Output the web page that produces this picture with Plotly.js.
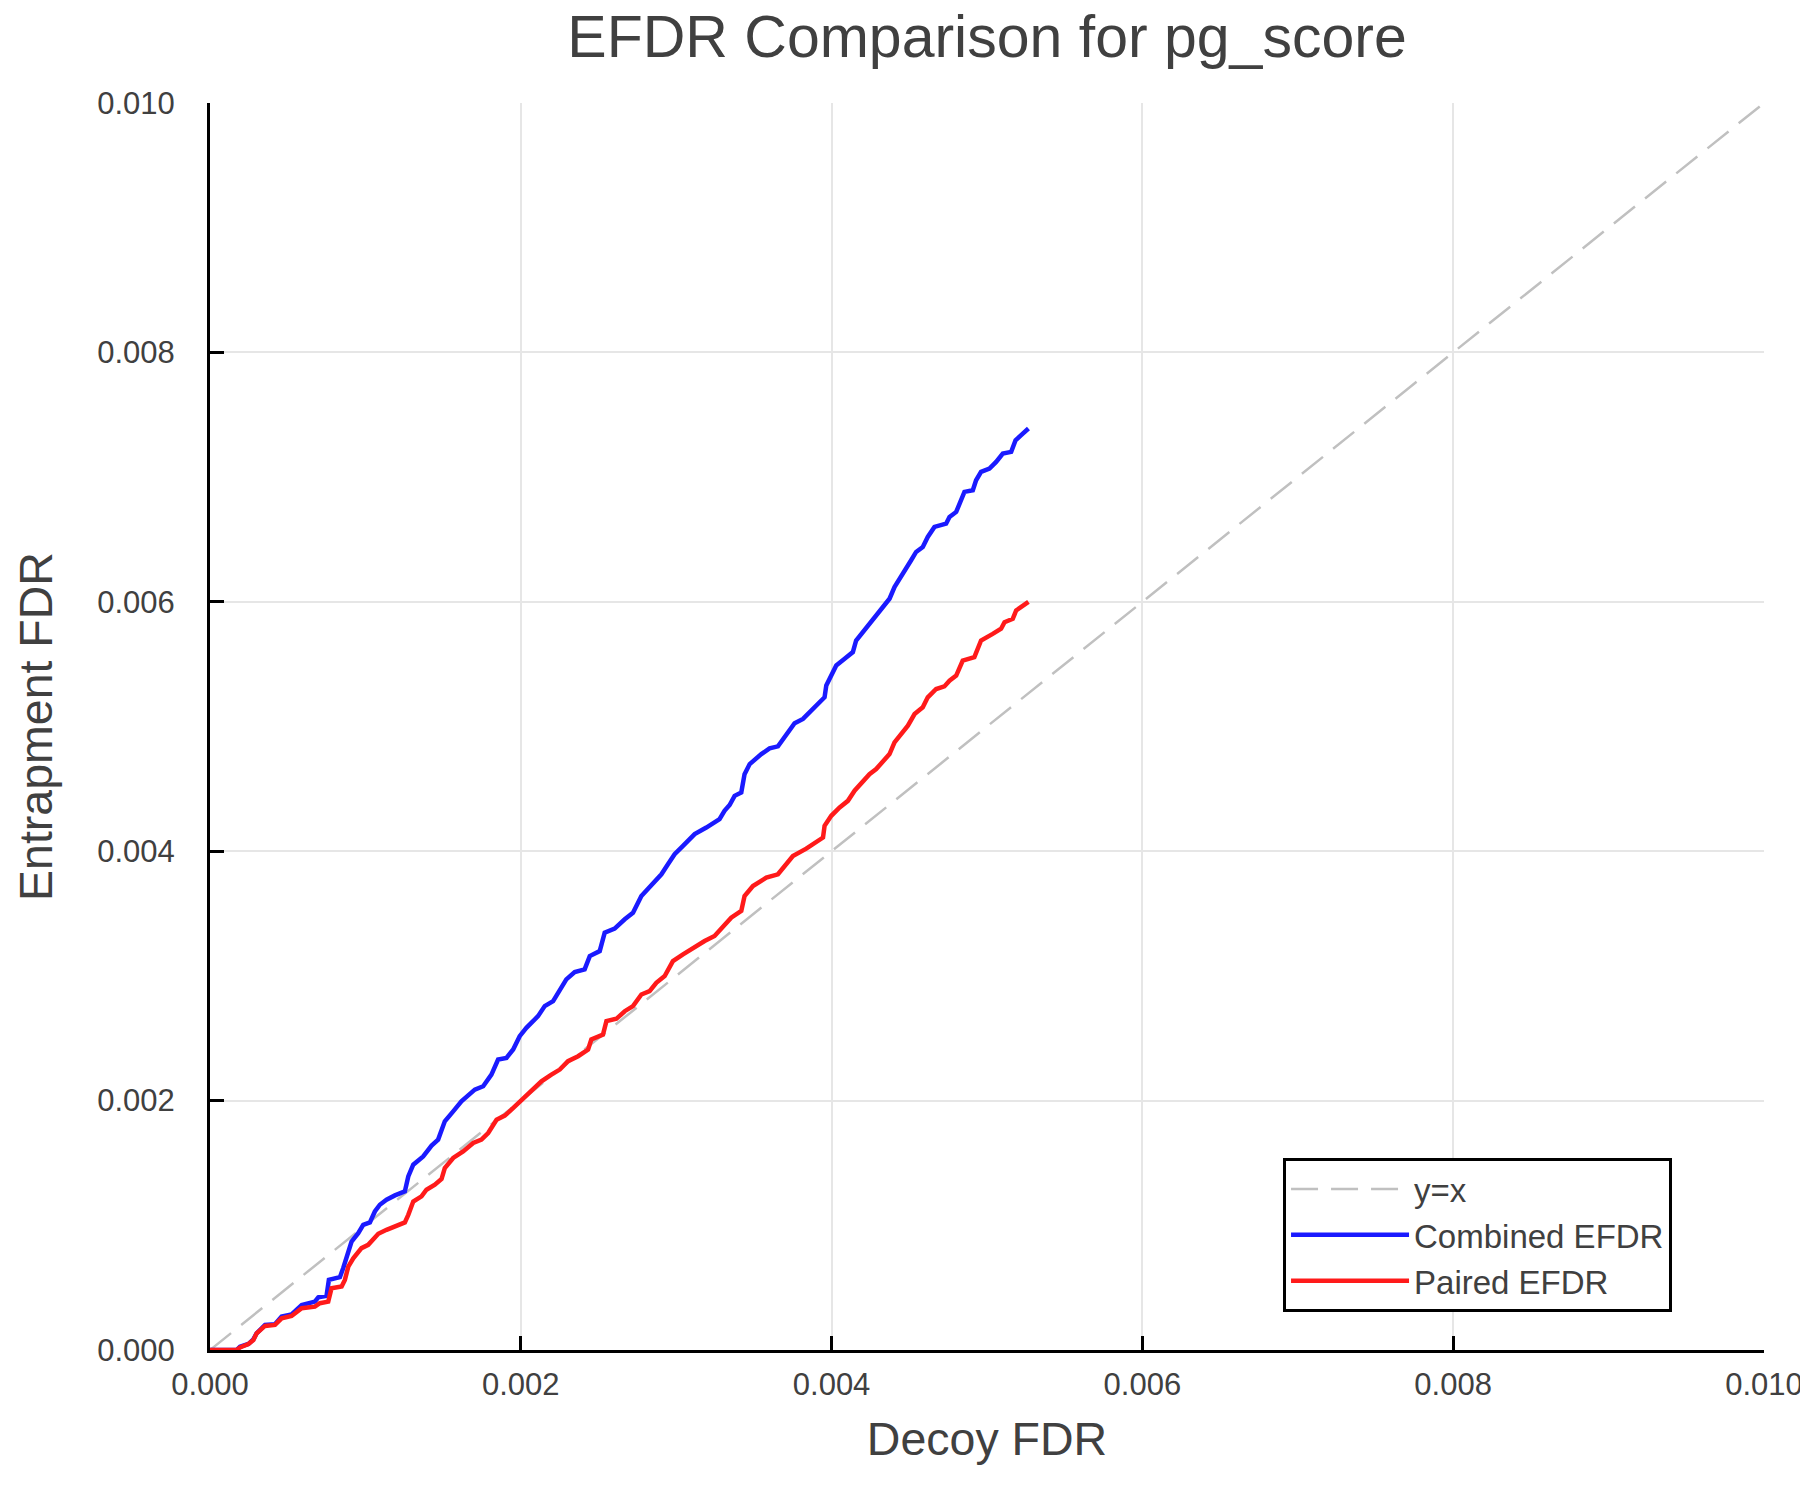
<html>
<head>
<script src="https://cdn.plot.ly/plotly-3.0.1.min.js"></script>
</head>
<body style="margin:0">
<div id="efdrPlot"></div>
<script>
//Combined EFDR curve (decoy FDR, entrapment FDR)
var combinedX = [0, 0.000171, 0.000193, 0.000247, 0.000279, 0.000300, 0.000354, 0.000418, 0.000461, 0.000525,
  0.000590, 0.000675, 0.000697, 0.000750, 0.000765, 0.000836, 0.000857, 0.000890, 0.000911, 0.000954,
  0.000986, 0.001029, 0.001061, 0.001093, 0.001136, 0.001190, 0.001254, 0.001276, 0.001308, 0.001372,
  0.001426, 0.001468, 0.001490, 0.001511, 0.001565, 0.001618, 0.001704, 0.001758, 0.001811, 0.001854,
  0.001908, 0.001951, 0.001993, 0.002036, 0.002111, 0.002154, 0.002208, 0.002250, 0.002293, 0.002347,
  0.002411, 0.002444, 0.002508, 0.002540, 0.002604, 0.002669, 0.002722, 0.002776, 0.002840, 0.002905,
  0.002947, 0.002990, 0.003044, 0.003119, 0.003194, 0.003279, 0.003311, 0.003344, 0.003376, 0.003419,
  0.003440, 0.003473, 0.003548, 0.003601, 0.003655, 0.003687, 0.003730, 0.003762, 0.003816, 0.003859,
  0.003912, 0.003955, 0.003966, 0.003998, 0.004030, 0.004084, 0.004137, 0.004158, 0.004201, 0.004244,
  0.004287, 0.004330, 0.004373, 0.004405, 0.004448, 0.004480, 0.004512, 0.004544, 0.004587, 0.004619,
  0.004662, 0.004737, 0.004759, 0.004802, 0.004823, 0.004855, 0.004909, 0.004930, 0.004962, 0.005016,
  0.005059, 0.005102, 0.005156, 0.005184, 0.005220, 0.005267];
var combinedY = [0, 0, 0.000027, 0.000048, 0.000086, 0.000134, 0.000201, 0.000206, 0.000268, 0.000286,
  0.000361, 0.000388, 0.000423, 0.000434, 0.000562, 0.000584, 0.000656, 0.000776, 0.000870, 0.000937,
  0.001004, 0.001023, 0.001111, 0.001165, 0.001205, 0.001240, 0.001272, 0.001392, 0.001486, 0.001553,
  0.001639, 0.001687, 0.001767, 0.001834, 0.001914, 0.001995, 0.002088, 0.002115, 0.002209, 0.002329,
  0.002343, 0.002410, 0.002517, 0.002584, 0.002677, 0.002758, 0.002798, 0.002878, 0.002972, 0.003031,
  0.003052, 0.003159, 0.003199, 0.003347, 0.003379, 0.003454, 0.003507, 0.003641, 0.003727, 0.003815,
  0.003896, 0.003976, 0.004043, 0.004137, 0.004190, 0.004257, 0.004324, 0.004371, 0.004444, 0.004471,
  0.004618, 0.004699, 0.004779, 0.004825, 0.004841, 0.004900, 0.004967, 0.005026, 0.005061, 0.005114,
  0.005181, 0.005235, 0.005329, 0.005409, 0.005490, 0.005543, 0.005597, 0.005690, 0.005757, 0.005824,
  0.005878, 0.005945, 0.006025, 0.006119, 0.006199, 0.006266, 0.006333, 0.006400, 0.006440, 0.006520,
  0.006601, 0.006627, 0.006681, 0.006721, 0.006788, 0.006882, 0.006895, 0.006975, 0.007042, 0.007069,
  0.007122, 0.007189, 0.007203, 0.007296, 0.007337, 0.007390];

//Paired EFDR curve
var pairedX = [0, 0.000171, 0.000193, 0.000247, 0.000279, 0.000300, 0.000354, 0.000418, 0.000461, 0.000525,
  0.000590, 0.000675, 0.000707, 0.000761, 0.000782, 0.000847, 0.000868, 0.000890, 0.000922, 0.000975,
  0.001018, 0.001050, 0.001083, 0.001136, 0.001190, 0.001254, 0.001276, 0.001308, 0.001361, 0.001393,
  0.001447, 0.001490, 0.001511, 0.001565, 0.001629, 0.001694, 0.001747, 0.001790, 0.001844, 0.001897,
  0.001940, 0.001983, 0.002026, 0.002079, 0.002133, 0.002197, 0.002251, 0.002304, 0.002369, 0.002433,
  0.002454, 0.002529, 0.002551, 0.002615, 0.002669, 0.002722, 0.002776, 0.002829, 0.002872, 0.002926,
  0.002979, 0.003044, 0.003108, 0.003183, 0.003247, 0.003301, 0.003354, 0.003419, 0.003440, 0.003494,
  0.003580, 0.003655, 0.003698, 0.003751, 0.003837, 0.003902, 0.003945, 0.003955, 0.003998, 0.004052,
  0.004105, 0.004148, 0.004201, 0.004244, 0.004287, 0.004330, 0.004373, 0.004405, 0.004448, 0.004491,
  0.004534, 0.004587, 0.004619, 0.004673, 0.004726, 0.004759, 0.004802, 0.004844, 0.004919, 0.004962,
  0.005037, 0.005091, 0.005113, 0.005166, 0.005188, 0.005231, 0.005267];
var pairedY = [0, 0, 0.000021, 0.000048, 0.000080, 0.000134, 0.000193, 0.000201, 0.000254, 0.000273,
  0.000335, 0.000348, 0.000375, 0.000388, 0.000495, 0.000509, 0.000562, 0.000669, 0.000736, 0.000817,
  0.000843, 0.000884, 0.000932, 0.000964, 0.000991, 0.001023, 0.001084, 0.001191, 0.001232, 0.001285,
  0.001325, 0.001371, 0.001459, 0.001540, 0.001593, 0.001660, 0.001687, 0.001740, 0.001847, 0.001880,
  0.001928, 0.001981, 0.002035, 0.002088, 0.002155, 0.002209, 0.002249, 0.002316, 0.002356, 0.002410,
  0.002490, 0.002530, 0.002637, 0.002656, 0.002717, 0.002758, 0.002851, 0.002878, 0.002945, 0.002999,
  0.003119, 0.003173, 0.003226, 0.003280, 0.003320, 0.003400, 0.003467, 0.003521, 0.003641, 0.003721,
  0.003788, 0.003815, 0.003882, 0.003962, 0.004021, 0.004070, 0.004110, 0.004204, 0.004284, 0.004351,
  0.004404, 0.004485, 0.004552, 0.004618, 0.004659, 0.004726, 0.004779, 0.004873, 0.004940, 0.005007,
  0.005100, 0.005154, 0.005234, 0.005301, 0.005322, 0.005368, 0.005408, 0.005529, 0.005556, 0.005690,
  0.005743, 0.005784, 0.005837, 0.005864, 0.005931, 0.005971, 0.006000];

//Reference diagonal and tick labels
var diagX = [0, 0.01];
var diagY = [0, 0.01];
var tickVals = [0, 0.002, 0.004, 0.006, 0.008, 0.010];
var tickText = ["0.000", "0.002", "0.004", "0.006", "0.008", "0.010"];

var textColor = '#404040';
var fontName = '"Liberation Sans", Arial, sans-serif';

var diagTrace = { x: diagX, y: diagY, mode: 'lines', type: 'scatter', name: 'y=x',
  line: {color: '#c0c0c0', width: 2.5, dash: '27px,13px'}
};
var combinedTrace = { x: combinedX, y: combinedY, mode: 'lines', type: 'scatter', name: 'Combined EFDR',
  line: {color: '#1a1aff', width: 4.5}
};
var pairedTrace = { x: pairedX, y: pairedY, mode: 'lines', type: 'scatter', name: 'Paired EFDR',
  line: {color: '#ff1a1a', width: 4.5}
};

//Shared axis styling: black left/bottom line, inward ticks, faint grid
function axisStyle(titleText, isX) {
  return {
    range: [0, 0.0100005], tickvals: tickVals, ticktext: tickText,
    showline: true, linecolor: '#000000', linewidth: 3, mirror: false,
    ticks: 'inside', ticklen: 14, tickwidth: 3, tickcolor: '#000000',
    showgrid: true, gridcolor: '#e6e6e6', gridwidth: 1.5, zeroline: false,
    tickfont: {family: fontName, size: 31, color: textColor},
    ticklabelstandoff: isX ? 5 : 26, ticklabeloverflow: 'allow',
    title: {text: titleText, font: {family: fontName, size: 46.5, color: textColor}, standoff: isX ? 22 : 30}
  };
}

var layout = {
  width: 1800, height: 1500,
  margin: {l: 210, r: 36, t: 103, b: 150},
  paper_bgcolor: '#ffffff', plot_bgcolor: '#ffffff',
  title: {text: 'EFDR Comparison for pg_score', xref: 'paper', x: 0.5, xanchor: 'center',
    yref: 'container', y: 0.976, yanchor: 'middle',
    font: {family: fontName, size: 59, color: textColor}},
  xaxis: axisStyle('Decoy FDR', true),
  yaxis: axisStyle('Entrapment FDR', false),
  showlegend: true,
  legend: {x: 0.6905, y: 0.154, xanchor: 'left', yanchor: 'top',
    bgcolor: '#ffffff', bordercolor: '#000000', borderwidth: 3,
    itemwidth: 118, tracegroupgap: 0, entrywidth: 420, entrywidthmode: 'pixels',
    font: {family: fontName, size: 33, color: textColor}}
};

Plotly.newPlot('efdrPlot', [diagTrace, combinedTrace, pairedTrace], layout, {displayModeBar: false});
</script>
</body>
</html>
